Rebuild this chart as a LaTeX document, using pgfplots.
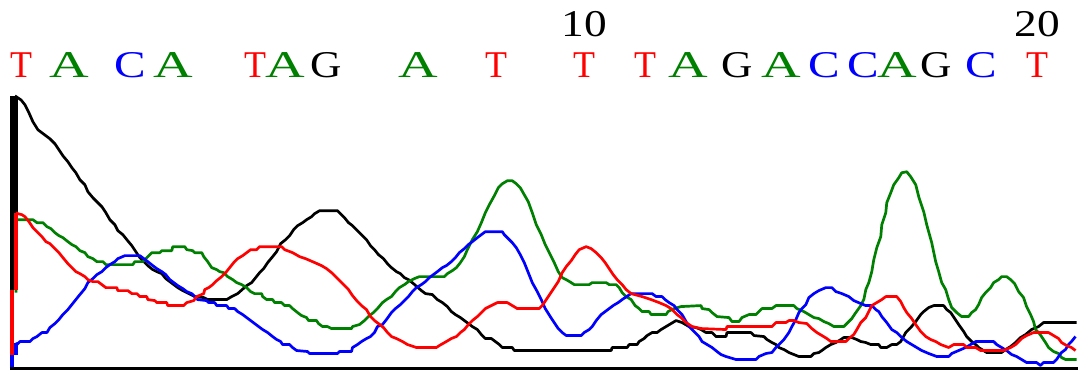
\documentclass[border=0pt]{standalone}
\usepackage{pgfplots}
\pgfplotsset{compat=1.18}
\usepackage{fontspec}
\setmainfont{Liberation Serif}
\definecolor{tA}{HTML}{008000}
\definecolor{tC}{HTML}{0000FF}
\definecolor{tG}{HTML}{000000}
\definecolor{tT}{HTML}{FF0000}
\newcommand{\bA}{\textcolor{tA}{\scalebox{1.45}[1]{A}}}
\newcommand{\bC}{\textcolor{tC}{\scalebox{1.25}[1]{C}}}
\newcommand{\bG}{\textcolor{tG}{\scalebox{1.15}[1]{G}}}
\newcommand{\bT}{\textcolor{tT}{\scalebox{0.95}[1]{T}}}
\begin{document}
\begin{tikzpicture}
\begin{axis}[
  width=1079bp, height=377bp, scale only axis,
  xmin=0, xmax=1079, ymin=0, ymax=377, y dir=reverse,
  hide axis, clip=false,
  every axis plot/.append style={line width=2.7bp, line join=round, mark=none},
]
% left start columns
\addplot[color=tG, line width=8bp] coordinates {(14,96) (14,290)};
% black trace
\addplot[color=tG] coordinates {
(15,96)(18,98)(21,100)(25,105)(29,113)(33,122)(38,130)(42,133)(50,139)(55,144)(59,150)(63,156)(68,162)(72,168)(76,173)(80,180)(85,185)(88,192)(93,198)(97,202)(102,207)(106,213)(110,220)(115,225)(118,231)(123,235)(127,240)(132,246)(136,252)(140,258)(144,262)(148,266)(153,270)(157,272)(162,274)(166,279)(170,282)(174,285)(178,288)(183,291)(187,293)(195,297)(204,298)(208,300)(227,300)(232,297)(238,294)(247,286)(252,283)(256,278)(260,273)(264,269)(268,263)(273,257)(277,252)(281,244)(286,240)(290,236)(294,230)(298,226)(303,223)(307,220)(312,217)(315,214)(320,211)(338,211)(341,214)(345,218)(349,223)(353,226)(358,231)(362,235)(367,240)(371,246)(375,250)(379,255)(384,259)(388,264)(392,268)(397,272)(401,274)(405,278)(409,280)(414,284)(422,291)(426,294)(433,295)(438,300)(443,303)(448,307)(452,312)(456,315)(461,318)(465,321)(473,327)(478,330)(482,335)(486,339)(492,339)(496,342)(500,345)(503,348)(513,348)(515,351)(612,351)(613,348)(628,348)(630,345)(638,345)(640,342)(645,339)(648,336)(653,333)(658,333)(662,330)(667,327)(672,324)(677,321)(680,322)(683,323)(690,327)(697,328)(702,330)(707,333)(713,333)(717,337)(727,337)(728,333)(752,333)(755,336)(765,337)(768,340)(773,343)(777,345)(780,348)(785,350)(790,353)(800,357)(812,357)(815,354)(820,353)(823,351)(827,348)(832,345)(837,343)(842,340)(845,338)(853,338)(858,340)(862,342)(867,343)(872,345)(878,345)(880,345)(882,348)(888,348)(893,345)(898,345)(902,342)(907,333)(912,328)(917,322)(922,315)(925,312)(930,308)(935,306)(945,306)(948,310)(952,313)(956,319)(960,325)(965,332)(968,337)(973,342)(977,345)(980,348)(988,353)(1003,353)(1007,350)(1012,347)(1017,343)(1022,338)(1027,335)(1033,330)(1040,327)(1045,323)(1078,323)};
% green trace
\addplot[color=tA] coordinates {
(16,293)(16,220)(18,220)(33,220)(37,223)(43,223)(47,227)(51,229)(55,233)(59,236)(63,238)(68,242)(72,245)(76,247)(80,251)(85,253)(88,257)(93,259)(97,262)(103,262)(106,265)(133,265)(135,262)(143,262)(148,257)(152,253)(160,253)(162,251)(172,251)(173,247)(185,247)(187,250)(193,251)(195,253)(202,253)(204,257)(208,262)(212,268)(217,270)(220,272)(224,273)(228,277)(233,280)(237,283)(242,285)(247,288)(251,292)(255,294)(262,294)(263,297)(267,300)(273,300)(275,303)(282,303)(285,306)(290,306)(293,309)(298,313)(302,316)(307,318)(309,321)(317,321)(319,324)(323,327)(328,327)(332,329)(352,329)(353,327)(360,325)(365,321)(370,316)(374,313)(378,309)(383,303)(387,300)(392,297)(396,292)(400,288)(405,285)(409,282)(415,279)(420,277)(445,277)(448,274)(453,271)(457,268)(461,263)(465,257)(468,250)(473,240)(478,232)(482,223)(486,213)(490,205)(495,196)(499,188)(503,184)(508,181)(513,181)(517,184)(521,188)(525,195)(529,202)(533,213)(537,225)(542,235)(546,245)(550,253)(555,263)(559,272)(563,278)(567,280)(572,283)(575,285)(590,285)(593,283)(607,283)(610,285)(617,285)(620,288)(623,293)(627,297)(632,300)(636,306)(640,309)(643,312)(650,312)(652,315)(667,315)(669,312)(675,309)(682,307)(702,306)(703,309)(710,310)(713,313)(718,317)(730,318)(733,322)(740,322)(743,318)(750,315)(757,315)(760,312)(763,309)(773,309)(777,306)(795,306)(798,309)(805,312)(810,315)(815,318)(820,319)(825,322)(830,324)(835,327)(845,327)(848,324)(853,319)(857,313)(862,306)(865,300)(867,290)(870,283)(873,272)(875,260)(878,248)(882,237)(883,225)(887,213)(888,203)(892,193)(895,185)(900,178)(903,173)(908,172)(912,177)(917,185)(920,197)(925,212)(928,225)(933,243)(937,262)(940,272)(943,283)(947,290)(950,300)(953,308)(958,313)(963,317)(970,317)(973,313)(977,310)(980,305)(983,298)(987,293)(992,288)(995,283)(1000,280)(1003,277)(1008,277)(1012,280)(1016,284)(1020,292)(1025,298)(1028,307)(1032,315)(1035,322)(1037,330)(1040,333)(1043,337)(1047,343)(1050,348)(1055,352)(1060,354)(1063,358)(1067,360)(1078,360)};
% blue trace
\addplot[color=tC, line width=4bp] coordinates {(12,370) (12,355)};
\addplot[color=tC, line width=4bp] coordinates {(16,355) (16,343)};
\addplot[color=tC] coordinates {
(16,343)(17,345)(20,342)(30,342)(33,339)(37,337)(42,333)(47,333)(50,328)(55,324)(59,320)(63,315)(68,310)(72,305)(76,300)(80,295)(85,289)(88,283)(93,279)(97,275)(102,272)(106,268)(110,265)(115,262)(118,259)(125,256)(140,256)(144,259)(148,262)(153,266)(157,269)(162,272)(166,275)(170,280)(174,283)(178,286)(183,289)(187,292)(192,294)(195,297)(198,300)(207,301)(209,303)(215,303)(217,306)(227,306)(229,309)(235,309)(238,312)(243,315)(247,318)(251,321)(255,324)(259,327)(263,330)(268,333)(273,337)(277,340)(281,342)(283,345)(290,345)(293,348)(297,351)(308,352)(310,354)(338,354)(340,352)(352,352)(353,348)(358,345)(362,342)(367,339)(371,337)(375,333)(378,327)(383,325)(387,320)(392,313)(396,309)(401,305)(405,301)(409,297)(413,292)(417,288)(422,285)(426,282)(430,278)(434,275)(438,272)(443,268)(447,266)(452,262)(456,258)(460,253)(465,249)(469,245)(473,242)(478,238)(482,235)(486,232)(503,232)(505,235)(508,238)(513,243)(517,248)(521,255)(525,263)(529,273)(533,283)(538,292)(542,300)(546,309)(551,317)(555,323)(559,329)(563,333)(567,336)(582,336)(585,333)(590,330)(593,327)(597,321)(602,315)(606,312)(610,309)(614,306)(619,303)(623,300)(632,294)(653,294)(657,297)(663,297)(666,300)(670,303)(675,306)(678,310)(683,315)(687,322)(690,327)(695,332)(700,337)(703,342)(708,345)(713,348)(718,352)(722,355)(727,357)(737,360)(757,360)(760,357)(767,354)(773,353)(777,348)(780,345)(785,340)(790,333)(793,327)(797,320)(800,313)(803,309)(807,305)(810,298)(815,294)(820,291)(827,288)(833,288)(837,292)(843,294)(850,297)(855,301)(862,304)(867,306)(873,306)(877,310)(880,312)(883,317)(888,323)(893,330)(898,333)(903,338)(908,342)(913,345)(918,348)(923,351)(930,354)(938,357)(950,357)(953,354)(960,351)(967,348)(972,345)(977,342)(995,342)(998,345)(1003,348)(1008,351)(1013,355)(1018,357)(1023,360)(1028,363)(1038,363)(1042,366)(1045,363)(1055,363)(1058,360)(1060,357)(1063,353)(1067,350)(1070,345)(1073,342)(1077,337)};
% red trace
\addplot[color=tT, line width=4bp] coordinates {(12,355) (12,290)};
\addplot[color=tT, line width=4bp] coordinates {(16,290) (16,213)};
\addplot[color=tT] coordinates {
(16,213)(18,214)(22,215)(25,217)(29,222)(33,228)(37,232)(42,237)(46,242)(50,244)(55,249)(59,253)(63,258)(68,264)(72,268)(76,272)(80,274)(85,277)(88,280)(93,282)(98,282)(102,285)(106,288)(117,288)(118,291)(128,291)(132,294)(137,294)(140,297)(147,297)(148,300)(155,301)(157,303)(167,303)(168,306)(184,306)(187,303)(194,301)(197,297)(204,294)(205,290)(209,288)(213,285)(217,281)(222,277)(226,273)(230,268)(234,263)(238,259)(243,256)(247,253)(251,250)(257,250)(260,247)(282,247)(285,250)(293,253)(300,257)(306,259)(313,262)(322,266)(327,269)(332,273)(337,278)(341,282)(345,286)(349,290)(353,296)(358,302)(362,306)(367,310)(371,317)(375,321)(379,324)(384,328)(388,333)(392,337)(397,339)(403,342)(408,345)(417,348)(437,348)(440,346)(447,342)(452,339)(457,337)(461,333)(465,330)(469,325)(473,321)(478,317)(482,313)(486,309)(492,306)(498,303)(508,303)(513,306)(518,309)(540,309)(543,306)(547,300)(551,294)(555,288)(559,282)(563,273)(567,267)(572,261)(576,255)(580,250)(587,247)(592,249)(597,253)(602,258)(606,263)(610,269)(614,275)(618,280)(623,285)(627,290)(632,294)(643,297)(652,300)(660,303)(667,306)(672,309)(678,315)(682,318)(687,323)(693,327)(702,329)(727,330)(728,327)(773,327)(777,323)(787,323)(790,321)(795,321)(800,323)(808,324)(813,329)(818,333)(823,336)(828,339)(832,342)(847,342)(850,339)(855,335)(858,330)(862,323)(867,318)(870,312)(873,306)(878,303)(883,300)(887,297)(898,297)(902,302)(905,308)(908,313)(913,319)(917,325)(922,332)(927,337)(932,340)(937,342)(942,345)(950,348)(955,345)(965,345)(968,348)(977,348)(982,351)(1005,351)(1012,348)(1017,345)(1020,342)(1023,339)(1028,336)(1035,333)(1050,333)(1055,336)(1060,339)(1063,343)(1068,346)(1073,348)(1077,351)};
% baseline
\draw[black, line width=3bp] (axis cs:10,369) -- (axis cs:1079,369);
\draw[draw=none] (rel axis cs:0,0) rectangle (rel axis cs:1,1);
% base calls
\begin{scope}[every node/.style={anchor=base, inner sep=0pt, font=\fontsize{38}{40}\selectfont}]
\node at (axis cs:21,78) {\bT};
\node at (axis cs:69,78) {\bA};
\node at (axis cs:130,78) {\bC};
\node at (axis cs:174,78) {\bA};
\node at (axis cs:256,78) {\bT};
\node at (axis cs:286,78) {\bA};
\node at (axis cs:327,78) {\bG};
\node at (axis cs:419,78) {\bA};
\node at (axis cs:497,78) {\bT};
\node at (axis cs:585,78) {\bT};
\node at (axis cs:646,78) {\bT};
\node at (axis cs:689,78) {\bA};
\node at (axis cs:738,78) {\bG};
\node at (axis cs:782,78) {\bA};
\node at (axis cs:825,78) {\bC};
\node at (axis cs:864,78) {\bC};
\node at (axis cs:899,78) {\bA};
\node at (axis cs:937,78) {\bG};
\node at (axis cs:983,78) {\bC};
\node at (axis cs:1039,78) {\bT};
\node at (axis cs:585,37) {\scalebox{1.2}[1]{10}};
\node at (axis cs:1039,37) {\scalebox{1.2}[1]{20}};
\end{scope}
\end{axis}
\end{tikzpicture}
\end{document}
